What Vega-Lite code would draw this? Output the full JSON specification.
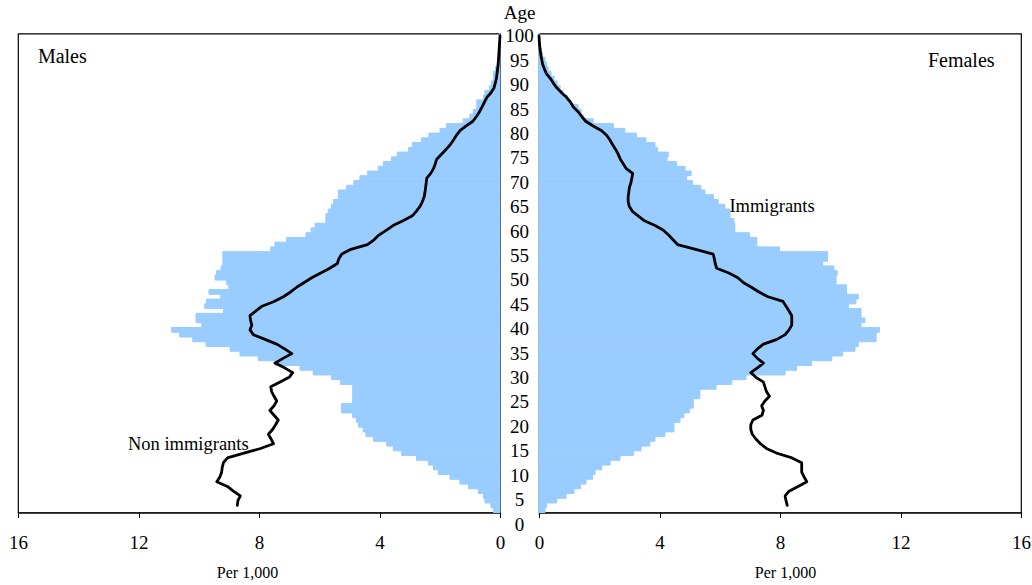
{
  "$schema": "https://vega.github.io/schema/vega-lite/v6.json",
  "background": "white",
  "padding": {"left": 7, "top": 3.5, "right": 0, "bottom": 0},
  "spacing": 0,
  "bounds": "flush",
  "config": {
    "font": "Liberation Serif",
    "view": {"stroke": "black", "strokeWidth": 1.2},
    "axis": {"grid": false, "domainColor": "black", "domainWidth": 1.2, "tickColor": "black", "labelColor": "black", "titleColor": "black", "labelFontSize": 19, "titleFontSize": 16, "titleFontWeight": "normal", "tickSize": 5, "labelFlush": false, "labelOverlap": false, "labelPadding": 16, "titlePadding": 12}
  },
  "datasets": {
    "pyr": [
      {"age": 0, "mi": 0.22, "fi": 0.2, "mn": null, "fn": null},
      {"age": 1, "mi": 0.3, "fi": 0.25, "mn": 8.72, "fn": 8.24},
      {"age": 2, "mi": 0.5, "fi": 0.59, "mn": 8.7, "fn": 8.2},
      {"age": 3, "mi": 0.55, "fi": 0.9, "mn": 8.62, "fn": 8.17},
      {"age": 4, "mi": 0.72, "fi": 1.16, "mn": 8.85, "fn": 8.3},
      {"age": 5, "mi": 1.05, "fi": 1.38, "mn": 9.05, "fn": 8.6},
      {"age": 6, "mi": 1.33, "fi": 1.56, "mn": 9.4, "fn": 8.89},
      {"age": 7, "mi": 1.66, "fi": 1.78, "mn": 9.3, "fn": 8.8},
      {"age": 8, "mi": 2.05, "fi": 1.86, "mn": 9.24, "fn": 8.72},
      {"age": 9, "mi": 2.21, "fi": 2.08, "mn": 9.22, "fn": 8.72},
      {"age": 10, "mi": 2.38, "fi": 2.36, "mn": 9.18, "fn": 8.72},
      {"age": 11, "mi": 2.77, "fi": 2.69, "mn": 9.05, "fn": 8.4},
      {"age": 12, "mi": 3.26, "fi": 3.13, "mn": 8.5, "fn": 7.9},
      {"age": 13, "mi": 3.54, "fi": 3.39, "mn": 7.95, "fn": 7.55},
      {"age": 14, "mi": 3.76, "fi": 3.68, "mn": 7.52, "fn": 7.35},
      {"age": 15, "mi": 4.2, "fi": 3.85, "mn": 7.6, "fn": 7.2},
      {"age": 16, "mi": 4.45, "fi": 4.18, "mn": 7.69, "fn": 7.08},
      {"age": 17, "mi": 4.54, "fi": 4.48, "mn": 7.55, "fn": 7.03},
      {"age": 18, "mi": 4.7, "fi": 4.48, "mn": 7.45, "fn": 7.03},
      {"age": 19, "mi": 4.76, "fi": 4.68, "mn": 7.36, "fn": 7.1},
      {"age": 20, "mi": 4.89, "fi": 4.81, "mn": 7.5, "fn": 7.4},
      {"age": 21, "mi": 5.26, "fi": 4.99, "mn": 7.64, "fn": 7.45},
      {"age": 22, "mi": 5.26, "fi": 5.12, "mn": 7.5, "fn": 7.39},
      {"age": 23, "mi": 4.89, "fi": 5.12, "mn": 7.41, "fn": 7.5},
      {"age": 24, "mi": 4.89, "fi": 5.34, "mn": 7.5, "fn": 7.65},
      {"age": 25, "mi": 4.89, "fi": 5.34, "mn": 7.58, "fn": 7.55},
      {"age": 26, "mi": 4.89, "fi": 5.88, "mn": 7.61, "fn": 7.5},
      {"age": 27, "mi": 5.29, "fi": 6.4, "mn": 7.3, "fn": 7.45},
      {"age": 28, "mi": 5.59, "fi": 6.87, "mn": 7.0, "fn": 7.2},
      {"age": 29, "mi": 6.2, "fi": 8.17, "mn": 6.88, "fn": 7.03},
      {"age": 30, "mi": 6.64, "fi": 8.55, "mn": 7.15, "fn": 7.25},
      {"age": 31, "mi": 7.47, "fi": 9.05, "mn": 7.47, "fn": 7.45},
      {"age": 32, "mi": 8.02, "fi": 9.72, "mn": 7.2, "fn": 7.25},
      {"age": 33, "mi": 8.63, "fi": 10.08, "mn": 6.91, "fn": 7.1},
      {"age": 34, "mi": 8.96, "fi": 10.49, "mn": 7.15, "fn": 7.25},
      {"age": 35, "mi": 9.76, "fi": 10.6, "mn": 7.41, "fn": 7.45},
      {"age": 36, "mi": 10.2, "fi": 11.19, "mn": 7.8, "fn": 7.9},
      {"age": 37, "mi": 10.64, "fi": 11.19, "mn": 8.19, "fn": 8.17},
      {"age": 38, "mi": 10.9, "fi": 11.3, "mn": 8.3, "fn": 8.3},
      {"age": 39, "mi": 9.9, "fi": 10.69, "mn": 8.24, "fn": 8.39},
      {"age": 40, "mi": 10.09, "fi": 10.82, "mn": 8.28, "fn": 8.39},
      {"age": 41, "mi": 10.09, "fi": 10.69, "mn": 8.3, "fn": 8.39},
      {"age": 42, "mi": 9.18, "fi": 10.69, "mn": 8.1, "fn": 8.3},
      {"age": 43, "mi": 9.8, "fi": 10.27, "mn": 7.9, "fn": 8.2},
      {"age": 44, "mi": 9.74, "fi": 10.52, "mn": 7.5, "fn": 8.1},
      {"age": 45, "mi": 9.27, "fi": 10.6, "mn": 7.19, "fn": 7.6},
      {"age": 46, "mi": 9.66, "fi": 10.21, "mn": 6.95, "fn": 7.3},
      {"age": 47, "mi": 9.0, "fi": 10.21, "mn": 6.75, "fn": 7.05},
      {"age": 48, "mi": 9.07, "fi": 9.86, "mn": 6.5, "fn": 6.78},
      {"age": 49, "mi": 9.46, "fi": 9.86, "mn": 6.25, "fn": 6.6},
      {"age": 50, "mi": 9.41, "fi": 9.9, "mn": 5.95, "fn": 6.3},
      {"age": 51, "mi": 9.26, "fi": 9.79, "mn": 5.65, "fn": 5.9},
      {"age": 52, "mi": 9.2, "fi": 9.42, "mn": 5.4, "fn": 5.85},
      {"age": 53, "mi": 9.2, "fi": 9.58, "mn": 5.35, "fn": 5.82},
      {"age": 54, "mi": 9.2, "fi": 9.58, "mn": 5.25, "fn": 5.78},
      {"age": 55, "mi": 7.61, "fi": 7.98, "mn": 4.95, "fn": 5.2},
      {"age": 56, "mi": 7.47, "fi": 7.23, "mn": 4.4, "fn": 4.6},
      {"age": 57, "mi": 7.08, "fi": 7.23, "mn": 4.18, "fn": 4.45},
      {"age": 58, "mi": 6.44, "fi": 6.98, "mn": 4.02, "fn": 4.3},
      {"age": 59, "mi": 6.27, "fi": 6.5, "mn": 3.78, "fn": 4.13},
      {"age": 60, "mi": 6.14, "fi": 6.5, "mn": 3.55, "fn": 3.85},
      {"age": 61, "mi": 5.78, "fi": 6.47, "mn": 3.22, "fn": 3.5},
      {"age": 62, "mi": 5.78, "fi": 6.34, "mn": 2.92, "fn": 3.3},
      {"age": 63, "mi": 5.7, "fi": 6.34, "mn": 2.78, "fn": 3.1},
      {"age": 64, "mi": 5.6, "fi": 6.17, "mn": 2.66, "fn": 3.0},
      {"age": 65, "mi": 5.53, "fi": 5.95, "mn": 2.58, "fn": 2.96},
      {"age": 66, "mi": 5.37, "fi": 5.79, "mn": 2.52, "fn": 2.96},
      {"age": 67, "mi": 5.37, "fi": 5.51, "mn": 2.49, "fn": 2.98},
      {"age": 68, "mi": 5.09, "fi": 5.37, "mn": 2.47, "fn": 3.0},
      {"age": 69, "mi": 4.85, "fi": 5.1, "mn": 2.45, "fn": 3.05},
      {"age": 70, "mi": 4.65, "fi": 4.9, "mn": 2.43, "fn": 3.08},
      {"age": 71, "mi": 4.4, "fi": 5.05, "mn": 2.3, "fn": 3.11},
      {"age": 72, "mi": 4.04, "fi": 4.85, "mn": 2.21, "fn": 2.9},
      {"age": 73, "mi": 3.87, "fi": 4.57, "mn": 2.15, "fn": 2.8},
      {"age": 74, "mi": 3.6, "fi": 4.25, "mn": 2.1, "fn": 2.7},
      {"age": 75, "mi": 3.41, "fi": 4.29, "mn": 1.95, "fn": 2.63},
      {"age": 76, "mi": 3.04, "fi": 3.93, "mn": 1.8, "fn": 2.55},
      {"age": 77, "mi": 2.91, "fi": 3.85, "mn": 1.66, "fn": 2.45},
      {"age": 78, "mi": 2.6, "fi": 3.55, "mn": 1.55, "fn": 2.36},
      {"age": 79, "mi": 2.36, "fi": 3.24, "mn": 1.45, "fn": 2.25},
      {"age": 80, "mi": 1.99, "fi": 2.85, "mn": 1.33, "fn": 2.08},
      {"age": 81, "mi": 1.77, "fi": 2.47, "mn": 1.12, "fn": 1.8},
      {"age": 82, "mi": 1.22, "fi": 1.8, "mn": 0.9, "fn": 1.55},
      {"age": 83, "mi": 1.0, "fi": 1.45, "mn": 0.78, "fn": 1.42},
      {"age": 84, "mi": 0.89, "fi": 1.4, "mn": 0.68, "fn": 1.3},
      {"age": 85, "mi": 0.77, "fi": 1.3, "mn": 0.6, "fn": 1.14},
      {"age": 86, "mi": 0.77, "fi": 1.05, "mn": 0.52, "fn": 1.05},
      {"age": 87, "mi": 0.55, "fi": 0.95, "mn": 0.44, "fn": 0.92},
      {"age": 88, "mi": 0.5, "fi": 0.8, "mn": 0.3, "fn": 0.75},
      {"age": 89, "mi": 0.35, "fi": 0.7, "mn": 0.2, "fn": 0.6},
      {"age": 90, "mi": 0.28, "fi": 0.6, "mn": 0.16, "fn": 0.48},
      {"age": 91, "mi": 0.22, "fi": 0.5, "mn": 0.12, "fn": 0.38},
      {"age": 92, "mi": 0.22, "fi": 0.4, "mn": 0.1, "fn": 0.25},
      {"age": 93, "mi": 0.15, "fi": 0.3, "mn": 0.08, "fn": 0.18},
      {"age": 94, "mi": 0.1, "fi": 0.25, "mn": 0.06, "fn": 0.12},
      {"age": 95, "mi": 0.07, "fi": 0.2, "mn": 0.05, "fn": 0.09},
      {"age": 96, "mi": 0.05, "fi": 0.12, "mn": 0.04, "fn": 0.06},
      {"age": 97, "mi": 0.03, "fi": 0.08, "mn": 0.03, "fn": 0.04},
      {"age": 98, "mi": 0.02, "fi": 0.04, "mn": 0.02, "fn": 0.02},
      {"age": 99, "mi": 0.01, "fi": 0.02, "mn": 0.01, "fn": 0.01},
      {"age": 100, "mi": 0.01, "fi": 0.01, "mn": 0.0, "fn": 0.0}
    ],
    "ticks": [
      {"age": 0}, {"age": 5}, {"age": 10}, {"age": 15}, {"age": 20}, {"age": 25}, {"age": 30},
      {"age": 35}, {"age": 40}, {"age": 45}, {"age": 50}, {"age": 55}, {"age": 60}, {"age": 65},
      {"age": 70}, {"age": 75}, {"age": 80}, {"age": 85}, {"age": 90}, {"age": 95}, {"age": 100}
    ]
  },
  "hconcat": [
    {
      "width": 482,
      "height": 479,
      "layer": [
        {
          "data": {"name": "pyr"},
          "mark": {"type": "bar", "color": "#99CCFF", "stroke": "#99CCFF", "strokeWidth": 1},
          "encoding": {
            "y": {"field": "age", "type": "ordinal", "axis": null,
              "scale": {"domain": [100,99,98,97,96,95,94,93,92,91,90,89,88,87,86,85,84,83,82,81,80,79,78,77,76,75,74,73,72,71,70,69,68,67,66,65,64,63,62,61,60,59,58,57,56,55,54,53,52,51,50,49,48,47,46,45,44,43,42,41,40,39,38,37,36,35,34,33,32,31,30,29,28,27,26,25,24,23,22,21,20,19,18,17,16,15,14,13,12,11,10,9,8,7,6,5,4,3,2,1,0], "paddingInner": 0, "paddingOuter": 0}},
            "x": {"field": "mi", "type": "quantitative",
              "scale": {"domain": [0, 16], "reverse": true, "nice": false, "zero": true},
              "axis": {"values": [0, 4, 8, 12, 16], "title": "Per 1,000", "titleX": 229}}
          }
        },
        {
          "data": {"name": "pyr"},
          "mark": {"type": "line", "color": "black", "strokeWidth": 2.8, "strokeJoin": "round", "strokeCap": "round"},
          "encoding": {
            "y": {"field": "age", "type": "ordinal", "axis": null},
            "x": {"field": "mn", "type": "quantitative",
              "scale": {"domain": [0, 16], "reverse": true, "nice": false, "zero": true},
              "axis": {"values": [0, 4, 8, 12, 16], "title": "Per 1,000", "titleX": 229}},
            "order": {"field": "age", "type": "quantitative"}
          }
        },
        {
          "data": {"values": [{}]},
          "mark": {"type": "text", "align": "left", "baseline": "middle", "fontSize": 20, "color": "black", "dy": 2},
          "encoding": {
            "y": {"datum": 96, "type": "ordinal", "axis": null},
            "x": {"datum": 15.34, "type": "quantitative", "axis": {"values": [0, 4, 8, 12, 16], "title": "Per 1,000", "titleX": 229}},
            "text": {"value": "Males"}
          }
        },
        {
          "data": {"values": [{}]},
          "mark": {"type": "text", "align": "left", "baseline": "middle", "fontSize": 18.5, "color": "black"},
          "encoding": {
            "y": {"datum": 14, "type": "ordinal", "axis": null},
            "x": {"datum": 12.35, "type": "quantitative", "axis": {"values": [0, 4, 8, 12, 16], "title": "Per 1,000", "titleX": 229}},
            "text": {"value": "Non immigrants"}
          }
        }
      ]
    },
    {
      "width": 39,
      "height": 491,
      "view": {"stroke": null},
      "layer": [
        {
          "data": {"name": "ticks"},
          "mark": {"type": "text", "fontSize": 19, "baseline": "middle", "align": "center", "color": "black"},
          "encoding": {
            "y": {"field": "age", "type": "quantitative", "scale": {"domain": [0, 100.6], "nice": false, "zero": false}, "axis": null},
            "text": {"field": "age", "type": "nominal"}
          }
        },
        {
          "data": {"values": [{}]},
          "mark": {"type": "text", "fontSize": 19, "baseline": "middle", "align": "center", "color": "black"},
          "encoding": {
            "y": {"datum": 104.9, "type": "quantitative", "axis": null},
            "text": {"value": "Age"}
          }
        }
      ]
    },
    {
      "width": 482,
      "height": 479,
      "layer": [
        {
          "data": {"name": "pyr"},
          "mark": {"type": "bar", "color": "#99CCFF", "stroke": "#99CCFF", "strokeWidth": 1},
          "encoding": {
            "y": {"field": "age", "type": "ordinal", "axis": null,
              "scale": {"domain": [100,99,98,97,96,95,94,93,92,91,90,89,88,87,86,85,84,83,82,81,80,79,78,77,76,75,74,73,72,71,70,69,68,67,66,65,64,63,62,61,60,59,58,57,56,55,54,53,52,51,50,49,48,47,46,45,44,43,42,41,40,39,38,37,36,35,34,33,32,31,30,29,28,27,26,25,24,23,22,21,20,19,18,17,16,15,14,13,12,11,10,9,8,7,6,5,4,3,2,1,0], "paddingInner": 0, "paddingOuter": 0}},
            "x": {"field": "fi", "type": "quantitative",
              "scale": {"domain": [0, 16], "nice": false, "zero": true},
              "axis": {"values": [0, 4, 8, 12, 16], "title": "Per 1,000", "titleX": 246}}
          }
        },
        {
          "data": {"name": "pyr"},
          "mark": {"type": "line", "color": "black", "strokeWidth": 2.8, "strokeJoin": "round", "strokeCap": "round"},
          "encoding": {
            "y": {"field": "age", "type": "ordinal", "axis": null},
            "x": {"field": "fn", "type": "quantitative",
              "scale": {"domain": [0, 16], "nice": false, "zero": true},
              "axis": {"values": [0, 4, 8, 12, 16], "title": "Per 1,000", "titleX": 246}},
            "order": {"field": "age", "type": "quantitative"}
          }
        },
        {
          "data": {"values": [{}]},
          "mark": {"type": "text", "align": "left", "baseline": "middle", "fontSize": 20, "color": "black", "dy": 1},
          "encoding": {
            "y": {"datum": 95, "type": "ordinal", "axis": null},
            "x": {"datum": 12.91, "type": "quantitative", "axis": {"values": [0, 4, 8, 12, 16], "title": "Per 1,000", "titleX": 246}},
            "text": {"value": "Females"}
          }
        },
        {
          "data": {"values": [{}]},
          "mark": {"type": "text", "align": "left", "baseline": "middle", "fontSize": 18.5, "color": "black", "dy": -1},
          "encoding": {
            "y": {"datum": 64, "type": "ordinal", "axis": null},
            "x": {"datum": 6.32, "type": "quantitative", "axis": {"values": [0, 4, 8, 12, 16], "title": "Per 1,000", "titleX": 246}},
            "text": {"value": "Immigrants"}
          }
        }
      ]
    }
  ]
}
